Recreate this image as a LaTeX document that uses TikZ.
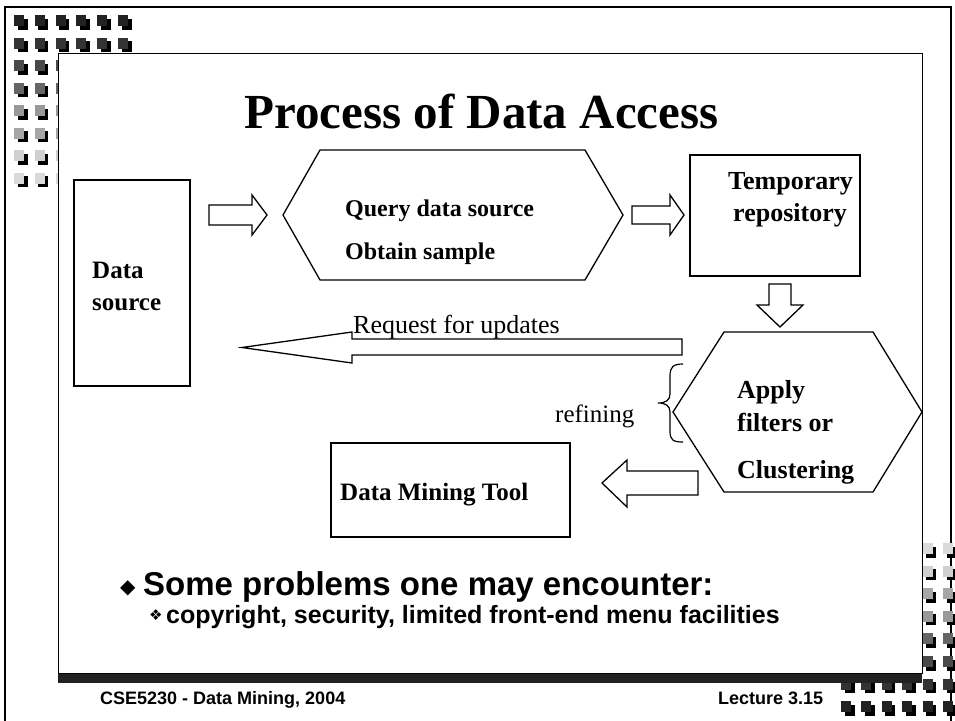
\documentclass[tikz,border=0pt]{standalone}
\usepackage{fontspec}
\setmainfont{Liberation Serif}
\setsansfont{Liberation Sans}
\newfontfamily\symfont{DejaVu Sans}

\definecolor{sqA}{HTML}{222222}
\definecolor{sqB}{HTML}{333333}
\definecolor{sqC}{HTML}{4A4A4A}
\definecolor{sqD}{HTML}{666666}
\definecolor{sqE}{HTML}{999999}
\definecolor{sqF}{HTML}{A6A6A6}
\definecolor{sqG}{HTML}{D0D0D0}
\definecolor{sqH}{HTML}{DADADA}

\tikzset{
  outline/.style={draw=black, line width=1.3pt, fill=white},
  barrow/.style={draw=black, line width=1.3pt, fill=white, line join=miter},
  boldtxt/.style={font=\bfseries\fontsize{26}{30}\selectfont, inner sep=0pt, anchor=base west},
  plaintxt/.style={font=\fontsize{26}{30}\selectfont, inner sep=0pt, anchor=base west},
  sanstxt/.style={font=\sffamily\bfseries, inner sep=0pt, anchor=base west},
}

% one decorative square with its black drop shadow
\newcommand\decosq[3]{%
  \fill[black] (#1+3.5,#2+3.5) rectangle (#1+13.5,#2+14.5);
  \fill[#3] (#1,#2) rectangle (#1+10,#2+11);
}

\begin{document}
\begin{tikzpicture}[x=1pt,y=-1pt]
\useasboundingbox (0,0) rectangle (955,720);
\fill[white] (0,0) rectangle (955,720);

% outer frame
\draw[line width=1.5pt] (5,7) rectangle (951,730);

% top-left square grid
\foreach \c [count=\r from 0] in {sqA,sqB,sqC,sqD,sqE,sqF,sqG,sqH}{
  \foreach \k in {0,...,5}{
    \decosq{14+20.8*\k}{15+22.5*\r}{\c}
  }
}
% bottom-right square grid
\foreach \c [count=\r from 0] in {sqH,sqG,sqF,sqE,sqD,sqC,sqB,sqA}{
  \foreach \k in {0,...,5}{
    \decosq{943-20.4*\k}{543+22.6*\r}{\c}
  }
}

% slide panel with its shadow band
\fill[sqA] (58,673) rectangle (922,683);
\draw[draw=black, line width=1pt, fill=white] (58,53) rectangle (922,673);

% title
\node[font=\bfseries\fontsize{49}{55}\selectfont, inner sep=0pt, anchor=base] (title) at (481.5,128) {Process of Data Access};

% data source box
\draw[outline] (74,180) rectangle (190,386);
\node[boldtxt, font=\bfseries\fontsize{25}{29}\selectfont] (ds1) at (92,278) {Data};
\node[boldtxt, font=\bfseries\fontsize{25}{29}\selectfont] (ds2) at (92,310) {source};

% query hexagon
\draw[outline] (283,215) -- (320,150) -- (585,150) -- (623,215) -- (585,280) -- (320,280) -- cycle;
\node[boldtxt, font=\bfseries\fontsize{24}{28}\selectfont] (q1) at (345,216) {Query data source};
\node[boldtxt, font=\bfseries\fontsize{24}{28}\selectfont] (q2) at (345,259) {Obtain sample};

% temporary repository box
\draw[outline] (690,155) rectangle (860,276);
\node[boldtxt] (t1) at (728,189) {Temporary};
\node[boldtxt] (t2) at (733,221) {repository};

% filter / clustering hexagon
\draw[outline] (673,412) -- (724,332) -- (873,332) -- (922,412) -- (873,492) -- (724,492) -- cycle;
\node[boldtxt] (f1) at (737,398) {Apply};
\node[boldtxt] (f2) at (737,431) {filters or};
\node[boldtxt] (f3) at (737,478) {Clustering};

% data mining tool box
\draw[outline] (331,443) rectangle (570,537);
\node[boldtxt, font=\bfseries\fontsize{25}{29}\selectfont] (dm) at (340,500) {Data Mining Tool};

% block arrows
\draw[barrow] (209,205) -- (252,205) -- (252,195) -- (267,215) -- (252,235) -- (252,225) -- (209,225) -- cycle;
\draw[barrow] (632,206) -- (670,206) -- (670,195) -- (684,215) -- (670,235) -- (670,224) -- (632,224) -- cycle;
\draw[barrow] (769,284) -- (791,284) -- (791,305) -- (803,305) -- (780,327) -- (757,305) -- (769,305) -- cycle;
\draw[barrow] (682,339) -- (352,339) -- (352,332) -- (242,347.5) -- (352,363) -- (352,355) -- (682,355) -- cycle;
\draw[barrow] (698,471) -- (627,471) -- (627,460) -- (602,483) -- (627,507) -- (627,495) -- (698,495) -- cycle;

% feedback label
\node[plaintxt] (req) at (353,333) {Request for updates};

% refining brace and label
\draw[line width=1.2pt] (683,364) .. controls (673,364) and (670,367) .. (670,376) -- (670,394)
  .. controls (670,400) and (666,403) .. (658,403)
  .. controls (666,403) and (670,406) .. (670,412) -- (670,431)
  .. controls (670,440) and (673,442) .. (683,442);
\node[plaintxt, font=\fontsize{25}{29}\selectfont] (ref) at (555,422) {refining};

% bullet points
\node[sanstxt, font=\symfont\fontsize{20}{24}\selectfont] (b1m) at (120,593) {◆};
\node[sanstxt, font=\sffamily\bfseries\fontsize{33}{38}\selectfont] (b1) at (143,595) {Some problems one may encounter:};
\node[sanstxt, font=\symfont\fontsize{15}{18}\selectfont] (b2m) at (149,620) {❖};
\node[sanstxt, font=\sffamily\bfseries\fontsize{25}{29}\selectfont] (b2) at (166,623) {copyright, security, limited front-end menu facilities};

% footer
\node[sanstxt, font=\sffamily\bfseries\fontsize{18}{21}\selectfont] (foot1) at (100,704) {CSE5230 - Data Mining, 2004};
\node[sanstxt, font=\sffamily\bfseries\fontsize{18}{21}\selectfont] (foot2) at (718,704) {Lecture 3.15};
\end{tikzpicture}
\end{document}
